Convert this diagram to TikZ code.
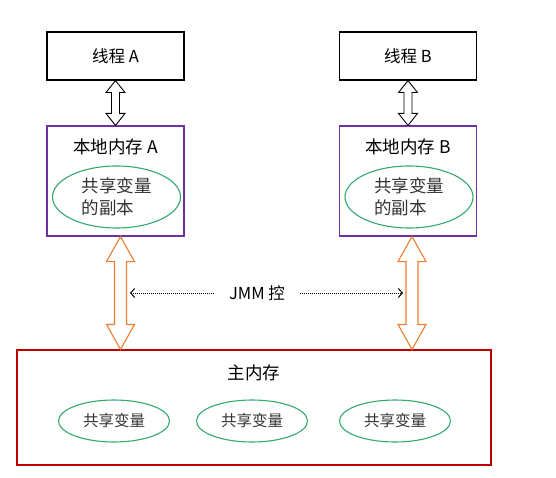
\documentclass[tikz,border=0pt]{standalone}
\usepackage{fontspec}
\setmainfont{Noto Sans CJK SC}
\usetikzlibrary{arrows.meta, positioning, calc, shapes.geometric}

\definecolor{purp}{RGB}{112,48,160}
\definecolor{memred}{RGB}{192,0,0}
\definecolor{memgreen}{RGB}{50,170,110}
\definecolor{arrorange}{RGB}{237,125,49}

% hollow double arrow from a top point #2 down to a bottom point #3
% #4 shaft half width, #5 head half width, #6 head length
\newcommand{\dblarrow}[6]{%
  \draw[#1] (#2) -- ($(#2)+(#5,-#6)$) -- ($(#2)+(#4,-#6)$)
    -- ($(#3)+(#4,#6)$) -- ($(#3)+(#5,#6)$) -- (#3)
    -- ($(#3)+(-#5,#6)$) -- ($(#3)+(-#4,#6)$)
    -- ($(#2)+(-#4,-#6)$) -- ($(#2)+(-#5,-#6)$) -- cycle;}

\begin{document}
\begin{tikzpicture}[x=1pt, y=1pt,
        thr/.style={rectangle, draw=black, line width=1.1pt, minimum width=137pt,
                    minimum height=48pt, inner sep=0pt, font=\fontsize{16.5}{18}\selectfont},
        loc/.style={rectangle, draw=purp, line width=1.1pt, minimum width=137pt,
                    minimum height=110pt, inner sep=0pt},
        mem/.style={rectangle, draw=memred, line width=1.1pt, minimum width=474pt,
                    minimum height=115pt, inner sep=0pt},
        copyv/.style={ellipse, draw=memgreen, line width=1.1pt, minimum width=128pt,
                      minimum height=62pt, inner sep=0pt, align=left, text=black!80,
                      font=\fontsize{17.5}{22}\selectfont},
        var/.style={ellipse, draw=memgreen, line width=1.1pt, minimum width=111pt,
                    minimum height=42pt, inner sep=0pt, text=black!80,
                    font=\fontsize{15.5}{18}\selectfont},
        ttl/.style={font=\fontsize{17.5}{20}\selectfont, inner sep=0pt},
        jmmarr/.style={densely dotted, line width=1pt, -{Straight Barb[length=4pt,width=9pt]}}]
      \useasboundingbox (0,0) rectangle (556,477);
      % threads and their local memory
      \node[thr] (ta) at (115.5,421) {线程 A};
      \node[thr] (tb) at (408,421) {线程 B};
      \node[loc] (la) at (115.5,296) {};
      \node[loc] (lb) at (408,296) {};
      \node[ttl] (lta) at ([yshift=-21pt]la.north) {本地内存 A};
      \node[ttl] (ltb) at ([yshift=-21pt]lb.north) {本地内存 B};
      \node[copyv] (ca) at ([xshift=1pt,yshift=-16pt]la.center) {共享变量\\的副本};
      \node[copyv] (cb) at ([xshift=1pt,yshift=-16pt]lb.center) {共享变量\\的副本};
      % main memory
      \node[mem] (mm) at (254,69.5) {};
      \node[ttl] (mt) at ([yshift=-23pt]mm.north) {主内存};
      \node[var] (v1) at ([xshift=-140pt,yshift=-13.5pt]mm.center) {共享变量};
      \node[var] (v2) at ([xshift=-2pt,yshift=-13.5pt]mm.center) {共享变量};
      \node[var] (v3) at ([xshift=141pt,yshift=-13.5pt]mm.center) {共享变量};
      % arrows
      \dblarrow{draw=black, line width=0.9pt, fill=white}{ta.south}{la.north}{4}{9.5}{12}
      \dblarrow{draw=black, line width=0.9pt, fill=white}{tb.south}{lb.north}{4}{9.5}{12}
      \coordinate (oa) at ([xshift=5pt]la.south);
      \coordinate (ob) at (oa |- mm.north);
      \coordinate (oc) at ([xshift=4pt]lb.south);
      \coordinate (od) at (oc |- mm.north);
      \dblarrow{draw=arrorange, line width=1.1pt, fill=white}{oa}{ob}{6}{14}{25}
      \dblarrow{draw=arrorange, line width=1.1pt, fill=white}{oc}{od}{6}{14}{25}
      % JMM
      \node[font=\fontsize{16.5}{18}\selectfont, inner xsep=15pt] (jmm) at (257,184) {JMM 控};
      \coordinate (jl) at (130,184);
      \coordinate (jr) at (403,184);
      \draw[jmmarr] (jmm.west) -- (jl);
      \draw[jmmarr] (jmm.east) -- (jr);
    \end{tikzpicture}
\end{document}
